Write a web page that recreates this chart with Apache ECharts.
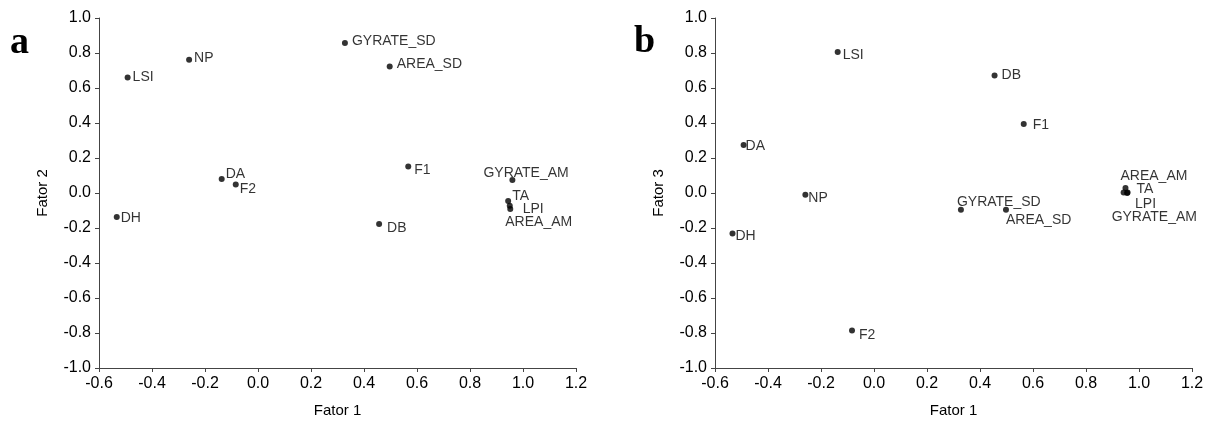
<!DOCTYPE html>
<html>
<head>
<meta charset="utf-8">
<script src="https://cdn.jsdelivr.net/npm/echarts@6/dist/echarts.min.js"></script>
<style>
html,body{margin:0;padding:0;background:#fff;}
#chart{width:1211px;height:423px;}
</style>
</head>
<body>
<div id="chart"></div>
<script>
// Panel a: Fator 1 vs Fator 2
const namesA  = ['NP','LSI','DA','F2','DH','GYRATE_SD','AREA_SD','F1','GYRATE_AM','TA','LPI','AREA_AM','DB'];
const fator1A = [-0.260,-0.492,-0.137,-0.084,-0.533,0.328,0.497,0.567,0.960,0.944,0.950,0.952,0.457];
const fator2A = [0.762,0.660,0.080,0.049,-0.137,0.857,0.723,0.152,0.074,-0.045,-0.073,-0.092,-0.177];

// Panel b: Fator 1 vs Fator 3
const namesB  = ['LSI','DA','NP','DH','F2','DB','F1','GYRATE_SD','AREA_SD','AREA_AM','TA','LPI','GYRATE_AM'];
const fator1B = [-0.137,-0.492,-0.259,-0.534,-0.083,0.455,0.565,0.328,0.498,0.949,0.957,0.955,0.942];
const fator3B = [0.806,0.274,-0.010,-0.231,-0.785,0.672,0.394,-0.095,-0.095,0.029,0.003,0.000,0.003];

// Axis tick settings
const axisMin = -1.0, axisMax = 1.0, xMin = -0.6, xMax = 1.2, step = 0.2;

// label placement (left edge dx, vertical center dy relative to the marker, px)
const labelPosA = {
  NP:[5,-2], LSI:[5,0], DA:[4,-5], F2:[4,5], DH:[4,1], GYRATE_SD:[7,-2], AREA_SD:[7,-2],
  F1:[6,4], GYRATE_AM:[-29,-7], TA:[4,-5], LPI:[13,3], AREA_AM:[-5,13], DB:[8,4]
};
const labelPosB = {
  LSI:[5,3], DA:[2,1], NP:[3,3], DH:[3,2.5], F2:[7,4.5], DB:[7,0], F1:[9,1],
  GYRATE_SD:[-4,-7], AREA_SD:[0,11], AREA_AM:[-5,-12], TA:[9,-3], LPI:[8,11], GYRATE_AM:[-12,25]
};

const FONT = 'Liberation Sans, Arial, sans-serif';

function build(names, xs, ys, pos) {
  return names.map((n, i) => ({
    name: n,
    value: [xs[i], ys[i]],
    label: {
      show: true,
      formatter: n,
      position: 'inside',
      align: 'left',
      verticalAlign: 'middle',
      offset: pos[n] || [5, 0]
    }
  }));
}

function xAxisCfg(gi) {
  return {
    gridIndex: gi, type: 'value', min: xMin, max: xMax, interval: step,
    name: 'Fator 1', nameLocation: 'middle', nameGap: 35,
    nameTextStyle: {fontFamily: FONT, fontSize: 15, color: '#000'},
    axisLine: {onZero: false, lineStyle: {color: '#444', width: 1}},
    axisTick: {show: true, inside: false, length: 4, lineStyle: {color: '#444'}},
    axisLabel: {fontFamily: FONT, fontSize: 16, color: '#000', margin: 8,
      formatter: v => v.toFixed(1)},
    splitLine: {show: false}
  };
}
function yAxisCfg(gi, name) {
  return {
    gridIndex: gi, type: 'value', min: axisMin, max: axisMax, interval: step,
    name: name, nameLocation: 'middle', nameGap: 49, nameRotate: 90,
    nameTextStyle: {fontFamily: FONT, fontSize: 15, color: '#000'},
    axisLine: {show: true, onZero: false, lineStyle: {color: '#444', width: 1}},
    axisTick: {show: true, inside: false, length: 4, lineStyle: {color: '#444'}},
    axisLabel: {fontFamily: FONT, fontSize: 16, color: '#000', margin: 8,
      formatter: v => v.toFixed(1)},
    splitLine: {show: false}
  };
}

const chart = echarts.init(document.getElementById('chart'), null, {renderer: 'canvas'});
chart.setOption({
  backgroundColor: '#fff',
  animation: false,
  grid: [
    {left: 99, top: 18, width: 477, height: 350},
    {left: 715, top: 18, width: 477, height: 350}
  ],
  xAxis: [xAxisCfg(0), xAxisCfg(1)],
  yAxis: [yAxisCfg(0, 'Fator 2'), yAxisCfg(1, 'Fator 3')],
  graphic: [
    {type: 'text', left: 10, top: 24, style: {text: 'a', font: 'bold 38px "Liberation Serif", "Times New Roman", serif', fill: '#000'}},
    {type: 'text', left: 634, top: 23, style: {text: 'b', font: 'bold 38px "Liberation Serif", "Times New Roman", serif', fill: '#000'}}
  ],
  series: [
    {
      type: 'scatter', xAxisIndex: 0, yAxisIndex: 0, symbol: 'circle', symbolSize: 6,
      itemStyle: {color: '#000'},
      label: {fontFamily: FONT, fontSize: 14, color: '#000', textBorderWidth: 0},
      emphasis: {disabled: true},
      data: build(namesA, fator1A, fator2A, labelPosA)
    },
    {
      type: 'scatter', xAxisIndex: 1, yAxisIndex: 1, symbol: 'circle', symbolSize: 6,
      itemStyle: {color: '#000'},
      label: {fontFamily: FONT, fontSize: 14, color: '#000', textBorderWidth: 0},
      emphasis: {disabled: true},
      data: build(namesB, fator1B, fator3B, labelPosB)
    }
  ]
});
</script>
</body>
</html>
